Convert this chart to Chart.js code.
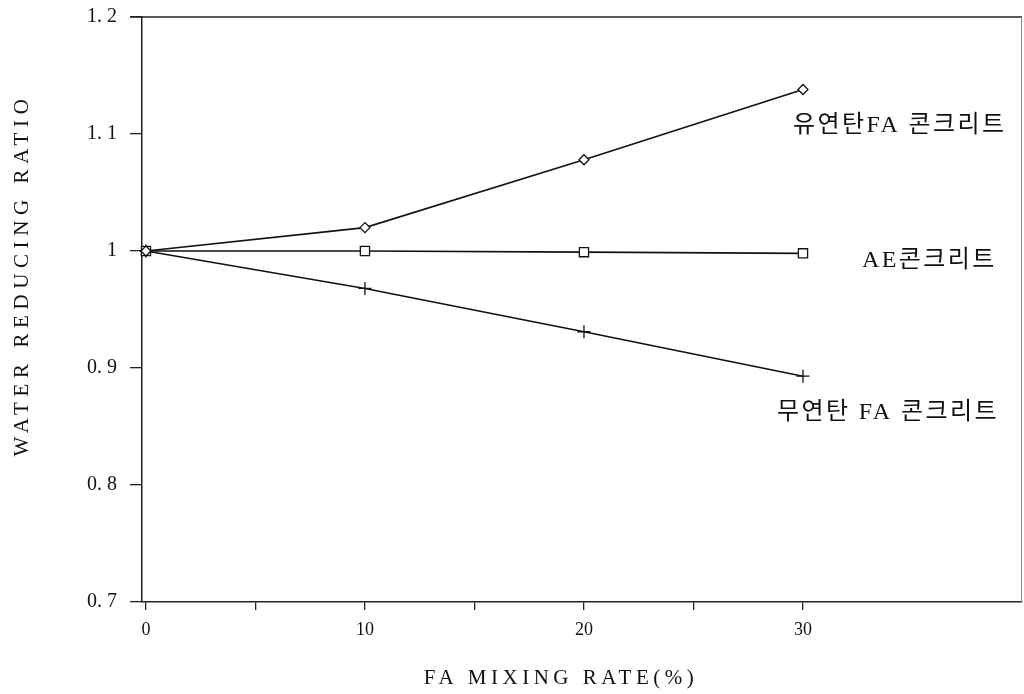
<!DOCTYPE html>
<html>
<head>
<meta charset="utf-8">
<script src="https://cdn.jsdelivr.net/npm/chart.js@4.4.1/dist/chart.umd.min.js"></script>
<style>
  html, body { margin: 0; padding: 0; background: #fff; overflow: hidden; }
  #wrap { width: 1024px; height: 694px; position: relative; }
  canvas { display: block; }
</style>
</head>
<body>
<div id="wrap"><canvas id="c" width="1024" height="694"></canvas></div>
<script>
// FA mixing rate (%)
const mixingRate = [0, 10, 20, 30];

// Water reducing ratio for each concrete type
const bituminousFA = [1.0, 1.02, 1.078, 1.138];   // 유연탄FA 콘크리트
const aeConcrete   = [1.0, 1.0, 0.999, 0.998];    // AE콘크리트
const anthraciteFA = [1.0, 0.968, 0.931, 0.893];  // 무연탄 FA 콘크리트

const seriesNames = ['유연탄FA 콘크리트', 'AE콘크리트', '무연탄 FA 콘크리트'];

// Axis ticks and labels
const xTickValues = [0, 5, 10, 15, 20, 25, 30];
const xTickLabels = ['0', '', '10', '', '20', '', '30'];
const yTickValues = [0.7, 0.8, 0.9, 1.0, 1.1, 1.2];
const yTickLabels = ['0. 7', '0. 8', '0. 9', '1', '1. 1', '1. 2'];
const xTitle = 'FA MIXING RATE(%)';
const yTitle = 'WATER REDUCING RATIO';

const toPoints = ys => mixingRate.map((x, i) => ({ x, y: ys[i] }));

const SERIF = '"Liberation Serif", "DejaVu Serif", serif';

// Series names written beside the line ends, plus the spaced-out axis titles
const textPlugin = {
  id: 'chartTexts',
  afterDraw(chart) {
    const ctx = chart.ctx;
    const spots = [
      { x: 793, y: 126 },
      { x: 862, y: 261 },
      { x: 777, y: 413 }
    ];
    ctx.save();
    ctx.fillStyle = '#111';
    ctx.font = '24px "Liberation Serif", "Noto Sans CJK KR", serif';
    ctx.textBaseline = 'middle';
    ctx.textAlign = 'left';
    ctx.letterSpacing = '2.4px';
    chart.data.datasets.forEach((ds, i) => {
      ctx.fillText(ds.label, spots[i].x, spots[i].y);
    });

    ctx.font = '21px ' + SERIF;
    ctx.letterSpacing = '4.5px';
    ctx.textAlign = 'center';
    ctx.fillText(xTitle, 561, 678);

    ctx.translate(22, 275);
    ctx.rotate(-Math.PI / 2);
    ctx.letterSpacing = '5.6px';
    ctx.fillText(yTitle, 0, 0);
    ctx.restore();
  }
};

// Frame around the plotting area (top and right edges)
const framePlugin = {
  id: 'frame',
  beforeDatasetsDraw(chart) {
    const { left, right, top, bottom } = chart.chartArea;
    const ctx = chart.ctx;
    ctx.save();
    ctx.strokeStyle = '#222';
    ctx.lineWidth = 1.5;
    ctx.beginPath();
    ctx.moveTo(left - 12, top);
    ctx.lineTo(right, top);
    ctx.stroke();
    ctx.strokeStyle = '#888';
    ctx.lineWidth = 1;
    ctx.beginPath();
    ctx.moveTo(right - 0.5, top);
    ctx.lineTo(right - 0.5, bottom);
    ctx.stroke();
    ctx.restore();
  }
};

// Keep tick-label overhang from shrinking the plotting area
const noOverhang = (scale) => {
  scale.paddingLeft = 0;
  scale.paddingRight = 0;
  scale.paddingTop = 0;
  scale.paddingBottom = 0;
};

const common = {
  borderColor: '#111',
  borderWidth: 1.6,
  backgroundColor: '#fff',
  pointBorderColor: '#111',
  pointBackgroundColor: '#fff',
  pointBorderWidth: 1.3,
  tension: 0,
  fill: false,
  clip: false
};

new Chart(document.getElementById('c'), {
  type: 'line',
  data: {
    datasets: [
      { ...common, label: seriesNames[0], data: toPoints(bituminousFA), pointStyle: 'rectRot', pointRadius: 5 },
      { ...common, label: seriesNames[1], data: toPoints(aeConcrete), pointStyle: 'rect', pointRadius: 6.5 },
      { ...common, label: seriesNames[2], data: toPoints(anthraciteFA), pointStyle: 'cross', pointRadius: 6.5 }
    ]
  },
  options: {
    responsive: false,
    animation: false,
    events: [],
    layout: { autoPadding: false, padding: { top: 17, right: 2, left: 0, bottom: 0 } },
    plugins: { legend: { display: false }, tooltip: { enabled: false } },
    scales: {
      x: {
        type: 'linear',
        min: -0.18,
        max: 40,
        afterBuildTicks(scale) { scale.ticks = xTickValues.map(v => ({ value: v })); },
        afterFit(scale) { scale.height = 92; noOverhang(scale); },
        border: { display: true, color: '#222', width: 1.5 },
        grid: { drawOnChartArea: false, drawTicks: true, tickLength: 8, color: '#222', lineWidth: 1.3 },
        ticks: {
          color: '#111',
          font: { family: SERIF, size: 18 },
          padding: 9,
          maxRotation: 0,
          autoSkip: false,
          callback: (v) => { const i = xTickValues.indexOf(v); return i >= 0 ? xTickLabels[i] : ''; }
        },
        title: { display: false }
      },
      y: {
        type: 'linear',
        min: 0.7,
        max: 1.2,
        afterBuildTicks(scale) { scale.ticks = yTickValues.map(v => ({ value: v })); },
        afterFit(scale) { scale.width = 142; noOverhang(scale); },
        border: { display: true, color: '#222', width: 1.5 },
        grid: { drawOnChartArea: false, drawTicks: true, tickLength: 12, color: '#222', lineWidth: 1.3 },
        ticks: {
          color: '#111',
          font: { family: SERIF, size: 20 },
          padding: 13,
          autoSkip: false,
          callback: (v) => {
            const i = yTickValues.findIndex(t => Math.abs(t - v) < 1e-9);
            return i >= 0 ? yTickLabels[i] : '';
          }
        },
        title: { display: false }
      }
    }
  },
  plugins: [framePlugin, textPlugin]
});
</script>
</body>
</html>
